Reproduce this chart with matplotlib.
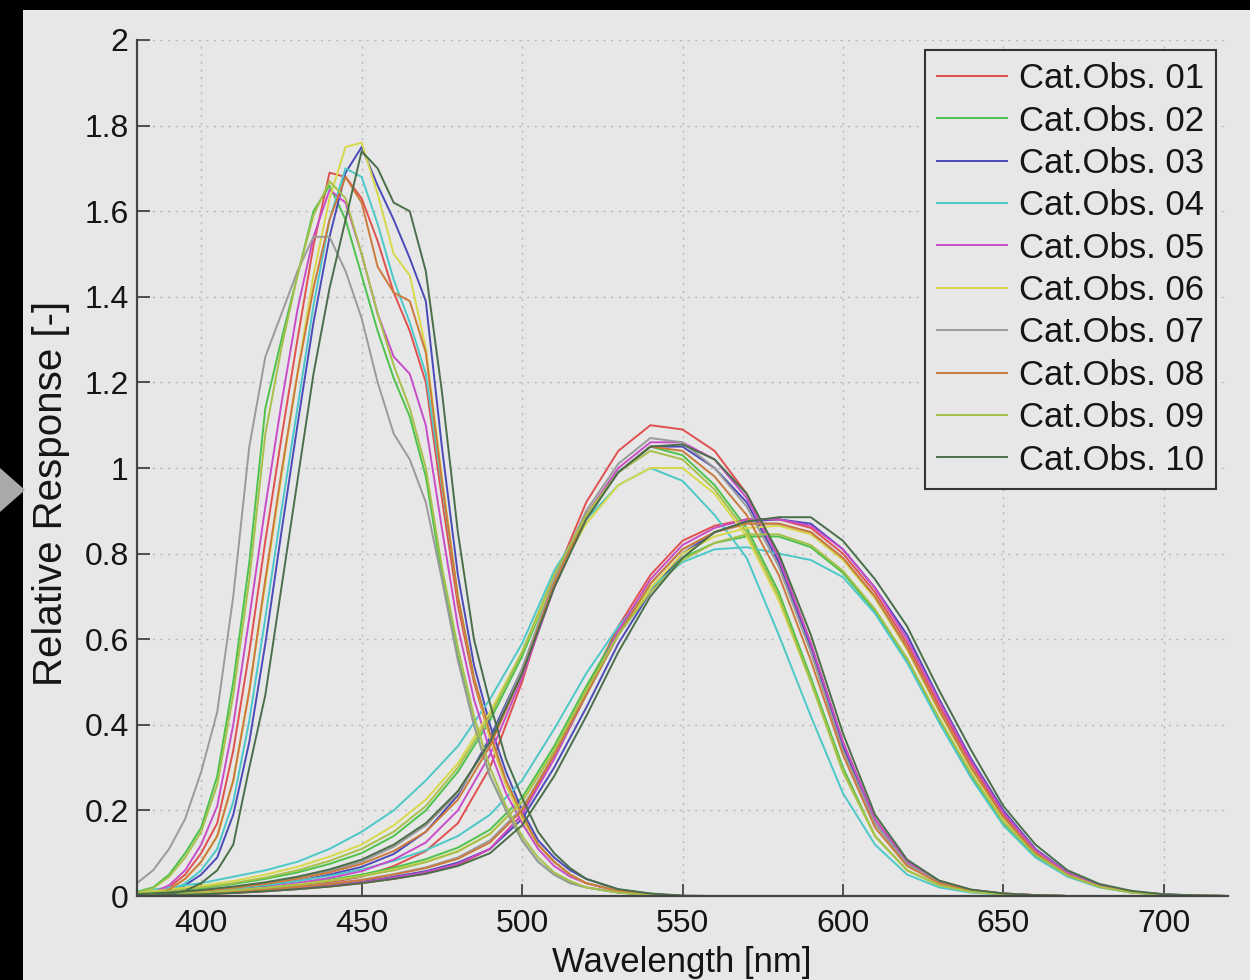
import matplotlib
matplotlib.use("Agg")
import matplotlib.pyplot as plt
from matplotlib.patches import Rectangle, Polygon
from matplotlib.ticker import FuncFormatter

plt.rcParams['font.family'] = ['Liberation Sans', 'DejaVu Sans']

# ---------------- data ----------------
OBSERVERS = ["Cat.Obs. 01", "Cat.Obs. 02", "Cat.Obs. 03", "Cat.Obs. 04", "Cat.Obs. 05",
             "Cat.Obs. 06", "Cat.Obs. 07", "Cat.Obs. 08", "Cat.Obs. 09", "Cat.Obs. 10"]
COLORS = ["#e0504f", "#4cc24c", "#4a4ab8", "#4cc8c8", "#c84cc8",
          "#d8d84a", "#9a9a9a", "#cc7a3c", "#a6c04a", "#4a6e4a"]

# short-wavelength (S) channel
S_WL = [380, 385, 390, 395, 400, 405, 410, 415, 420, 425, 430, 435, 440, 445, 450, 455,
        460, 465, 470, 475, 480, 485, 490, 495, 500, 505, 510, 515, 520, 530, 540, 550, 560]
S_RESP = [
    [0.00, 0.005, 0.02, 0.05, 0.10, 0.17, 0.34, 0.57, 0.83, 1.07, 1.30, 1.52, 1.69, 1.68, 1.63, 1.53,
     1.41, 1.32, 1.20, 0.93, 0.68, 0.50, 0.37, 0.26, 0.18, 0.12, 0.08, 0.05, 0.03, 0.012, 0.004, 0.0, 0.0],
    [0.01, 0.02, 0.05, 0.10, 0.16, 0.28, 0.50, 0.78, 1.14, 1.30, 1.45, 1.60, 1.66, 1.58, 1.45, 1.32,
     1.21, 1.12, 0.98, 0.75, 0.56, 0.40, 0.28, 0.20, 0.13, 0.08, 0.05, 0.03, 0.02, 0.008, 0.002, 0.0, 0.0],
    [0.00, 0.002, 0.008, 0.025, 0.05, 0.09, 0.19, 0.36, 0.59, 0.85, 1.10, 1.34, 1.54, 1.69, 1.75, 1.66,
     1.58, 1.49, 1.39, 1.05, 0.75, 0.54, 0.40, 0.29, 0.20, 0.13, 0.09, 0.06, 0.04, 0.015, 0.005, 0.0, 0.0],
    [0.00, 0.003, 0.01, 0.03, 0.06, 0.11, 0.22, 0.41, 0.65, 0.90, 1.14, 1.38, 1.58, 1.70, 1.68, 1.57,
     1.44, 1.34, 1.22, 0.96, 0.70, 0.51, 0.38, 0.27, 0.19, 0.12, 0.08, 0.05, 0.03, 0.012, 0.004, 0.0, 0.0],
    [0.00, 0.008, 0.025, 0.06, 0.12, 0.21, 0.40, 0.65, 0.91, 1.15, 1.37, 1.54, 1.65, 1.62, 1.50, 1.36,
     1.26, 1.22, 1.10, 0.86, 0.63, 0.46, 0.34, 0.24, 0.17, 0.11, 0.07, 0.045, 0.03, 0.01, 0.003, 0.0, 0.0],
    [0.00, 0.004, 0.015, 0.04, 0.08, 0.14, 0.27, 0.48, 0.73, 0.98, 1.22, 1.45, 1.63, 1.75, 1.76, 1.64,
     1.50, 1.45, 1.28, 0.98, 0.70, 0.51, 0.37, 0.26, 0.18, 0.12, 0.08, 0.05, 0.03, 0.012, 0.004, 0.0, 0.0],
    [0.03, 0.06, 0.11, 0.18, 0.29, 0.43, 0.70, 1.05, 1.26, 1.36, 1.46, 1.54, 1.54, 1.46, 1.35, 1.20,
     1.08, 1.02, 0.92, 0.74, 0.55, 0.40, 0.28, 0.20, 0.13, 0.08, 0.05, 0.03, 0.02, 0.008, 0.002, 0.0, 0.0],
    [0.00, 0.004, 0.015, 0.04, 0.08, 0.14, 0.27, 0.48, 0.74, 0.99, 1.22, 1.42, 1.58, 1.68, 1.62, 1.47,
     1.41, 1.39, 1.27, 0.97, 0.70, 0.51, 0.38, 0.27, 0.19, 0.12, 0.08, 0.05, 0.03, 0.012, 0.004, 0.0, 0.0],
    [0.008, 0.018, 0.045, 0.09, 0.15, 0.26, 0.47, 0.74, 1.08, 1.28, 1.45, 1.59, 1.67, 1.63, 1.50, 1.36,
     1.24, 1.14, 1.00, 0.77, 0.58, 0.42, 0.30, 0.21, 0.14, 0.09, 0.055, 0.035, 0.02, 0.008, 0.002, 0.0, 0.0],
    [0.00, 0.00, 0.004, 0.012, 0.03, 0.06, 0.12, 0.30, 0.47, 0.72, 0.97, 1.22, 1.42, 1.58, 1.74, 1.70,
     1.62, 1.60, 1.46, 1.18, 0.85, 0.60, 0.45, 0.32, 0.23, 0.15, 0.10, 0.065, 0.04, 0.016, 0.006, 0.001, 0.0],
]

# medium-wavelength (M) channel
M_WL = [380, 390, 400, 410, 420, 430, 440, 450, 460, 470, 480, 490, 500, 510, 520, 530, 540,
        550, 560, 570, 580, 590, 600, 610, 620, 630, 640, 650, 660, 670, 680, 690, 700]
M_RESP = [
    [0.0, 0.003, 0.006, 0.01, 0.015, 0.022, 0.032, 0.045, 0.07, 0.105, 0.17, 0.30, 0.50, 0.74, 0.92, 1.04, 1.10,
     1.09, 1.04, 0.94, 0.79, 0.59, 0.36, 0.18, 0.08, 0.035, 0.014, 0.006, 0.002, 0.0, 0.0, 0.0, 0.0],
    [0.005, 0.01, 0.018, 0.028, 0.04, 0.055, 0.075, 0.10, 0.14, 0.20, 0.29, 0.41, 0.56, 0.74, 0.89, 0.99, 1.05,
     1.03, 0.96, 0.86, 0.71, 0.51, 0.30, 0.14, 0.06, 0.025, 0.01, 0.004, 0.001, 0.0, 0.0, 0.0, 0.0],
    [0.002, 0.005, 0.01, 0.016, 0.024, 0.035, 0.05, 0.068, 0.098, 0.15, 0.235, 0.37, 0.53, 0.73, 0.89, 0.99, 1.05,
     1.05, 1.00, 0.92, 0.78, 0.58, 0.35, 0.17, 0.075, 0.032, 0.013, 0.005, 0.002, 0.0, 0.0, 0.0, 0.0],
    [0.01, 0.02, 0.03, 0.045, 0.06, 0.08, 0.11, 0.15, 0.20, 0.27, 0.35, 0.46, 0.59, 0.76, 0.88, 0.96, 1.00,
     0.97, 0.89, 0.79, 0.61, 0.42, 0.24, 0.12, 0.05, 0.02, 0.008, 0.003, 0.001, 0.0, 0.0, 0.0, 0.0],
    [0.0, 0.004, 0.008, 0.013, 0.02, 0.03, 0.042, 0.058, 0.085, 0.125, 0.20, 0.33, 0.51, 0.72, 0.89, 1.00, 1.06,
     1.06, 1.02, 0.93, 0.79, 0.59, 0.36, 0.18, 0.08, 0.035, 0.014, 0.006, 0.002, 0.0, 0.0, 0.0, 0.0],
    [0.008, 0.015, 0.024, 0.035, 0.05, 0.068, 0.092, 0.12, 0.165, 0.225, 0.31, 0.43, 0.57, 0.74, 0.87, 0.96, 1.00,
     1.00, 0.94, 0.84, 0.69, 0.50, 0.29, 0.14, 0.06, 0.025, 0.01, 0.004, 0.001, 0.0, 0.0, 0.0, 0.0],
    [0.004, 0.008, 0.013, 0.02, 0.03, 0.042, 0.058, 0.08, 0.115, 0.165, 0.24, 0.36, 0.53, 0.74, 0.90, 1.01, 1.07,
     1.06, 1.00, 0.91, 0.77, 0.57, 0.34, 0.17, 0.075, 0.032, 0.013, 0.005, 0.002, 0.0, 0.0, 0.0, 0.0],
    [0.003, 0.007, 0.012, 0.019, 0.028, 0.04, 0.055, 0.075, 0.105, 0.15, 0.225, 0.35, 0.52, 0.73, 0.89, 0.99, 1.05,
     1.04, 0.98, 0.89, 0.75, 0.55, 0.33, 0.16, 0.07, 0.03, 0.012, 0.005, 0.002, 0.0, 0.0, 0.0, 0.0],
    [0.006, 0.012, 0.02, 0.03, 0.043, 0.06, 0.082, 0.11, 0.15, 0.21, 0.30, 0.42, 0.57, 0.75, 0.89, 0.99, 1.04,
     1.02, 0.95, 0.85, 0.70, 0.50, 0.29, 0.14, 0.06, 0.025, 0.01, 0.004, 0.001, 0.0, 0.0, 0.0, 0.0],
    [0.004, 0.008, 0.014, 0.022, 0.032, 0.045, 0.062, 0.085, 0.12, 0.17, 0.245, 0.36, 0.52, 0.72, 0.88, 0.99, 1.05,
     1.055, 1.02, 0.94, 0.80, 0.61, 0.38, 0.19, 0.085, 0.036, 0.015, 0.006, 0.002, 0.0, 0.0, 0.0, 0.0],
]

# long-wavelength (L) channel
L_WL = [380, 390, 400, 410, 420, 430, 440, 450, 460, 470, 480, 490, 500, 510, 520, 530, 540, 550,
        560, 570, 580, 590, 600, 610, 620, 630, 640, 650, 660, 670, 680, 690, 700, 710, 720]
L_RESP = [
    [0.0, 0.002, 0.004, 0.007, 0.011, 0.016, 0.022, 0.03, 0.04, 0.053, 0.072, 0.11, 0.19, 0.33, 0.48, 0.63, 0.75, 0.83,
     0.865, 0.88, 0.88, 0.86, 0.80, 0.71, 0.59, 0.445, 0.31, 0.19, 0.105, 0.052, 0.023, 0.009, 0.003, 0.001, 0.0],
    [0.002, 0.005, 0.009, 0.014, 0.02, 0.028, 0.038, 0.05, 0.066, 0.086, 0.113, 0.155, 0.23, 0.35, 0.49, 0.62, 0.72, 0.79,
     0.825, 0.84, 0.84, 0.815, 0.755, 0.665, 0.55, 0.41, 0.28, 0.17, 0.094, 0.047, 0.021, 0.008, 0.003, 0.001, 0.0],
    [0.0, 0.002, 0.005, 0.008, 0.012, 0.018, 0.025, 0.033, 0.045, 0.058, 0.078, 0.11, 0.18, 0.30, 0.44, 0.59, 0.71, 0.80,
     0.85, 0.875, 0.88, 0.87, 0.81, 0.72, 0.61, 0.46, 0.32, 0.20, 0.11, 0.055, 0.025, 0.01, 0.004, 0.001, 0.0],
    [0.003, 0.006, 0.011, 0.017, 0.025, 0.035, 0.047, 0.062, 0.082, 0.107, 0.14, 0.19, 0.27, 0.39, 0.52, 0.63, 0.72, 0.78,
     0.81, 0.815, 0.80, 0.785, 0.745, 0.66, 0.545, 0.405, 0.275, 0.165, 0.09, 0.045, 0.02, 0.008, 0.003, 0.001, 0.0],
    [0.0, 0.002, 0.005, 0.008, 0.012, 0.017, 0.024, 0.032, 0.043, 0.056, 0.075, 0.11, 0.19, 0.32, 0.47, 0.62, 0.74, 0.82,
     0.86, 0.88, 0.88, 0.865, 0.81, 0.72, 0.60, 0.455, 0.315, 0.195, 0.108, 0.054, 0.024, 0.01, 0.004, 0.001, 0.0],
    [0.002, 0.004, 0.008, 0.013, 0.019, 0.027, 0.036, 0.047, 0.062, 0.08, 0.105, 0.145, 0.22, 0.34, 0.48, 0.61, 0.72, 0.80,
     0.84, 0.86, 0.865, 0.845, 0.785, 0.695, 0.575, 0.43, 0.295, 0.18, 0.10, 0.05, 0.022, 0.009, 0.003, 0.001, 0.0],
    [0.001, 0.003, 0.006, 0.01, 0.015, 0.021, 0.029, 0.038, 0.051, 0.067, 0.09, 0.13, 0.205, 0.33, 0.47, 0.61, 0.73, 0.81,
     0.85, 0.87, 0.87, 0.85, 0.79, 0.70, 0.58, 0.435, 0.30, 0.185, 0.10, 0.05, 0.022, 0.009, 0.003, 0.001, 0.0],
    [0.001, 0.003, 0.006, 0.01, 0.015, 0.021, 0.028, 0.037, 0.05, 0.065, 0.087, 0.125, 0.20, 0.33, 0.47, 0.61, 0.73, 0.81,
     0.85, 0.87, 0.87, 0.85, 0.79, 0.70, 0.58, 0.435, 0.30, 0.185, 0.10, 0.05, 0.022, 0.009, 0.003, 0.001, 0.0],
    [0.002, 0.004, 0.008, 0.013, 0.019, 0.026, 0.035, 0.046, 0.06, 0.079, 0.104, 0.145, 0.22, 0.34, 0.48, 0.61, 0.71, 0.785,
     0.825, 0.845, 0.845, 0.82, 0.76, 0.67, 0.555, 0.415, 0.285, 0.173, 0.096, 0.048, 0.021, 0.008, 0.003, 0.001, 0.0],
    [0.0, 0.002, 0.004, 0.007, 0.011, 0.016, 0.022, 0.03, 0.04, 0.052, 0.07, 0.10, 0.165, 0.28, 0.42, 0.57, 0.70, 0.79,
     0.85, 0.875, 0.885, 0.885, 0.83, 0.74, 0.63, 0.48, 0.34, 0.21, 0.12, 0.06, 0.028, 0.012, 0.004, 0.0015, 0.0],
]

X_TICKS = [400, 450, 500, 550, 600, 650, 700]
Y_TICKS = [0, 0.2, 0.4, 0.6, 0.8, 1.0, 1.2, 1.4, 1.6, 1.8, 2.0]

# ---------------- figure ----------------
W, H = 1250, 980
BG = "#e7e7e7"
INK = "#151515"
fig = plt.figure(figsize=(W / 100, H / 100), dpi=100)
fig.patch.set_facecolor(BG)

# dark frame strips and side marker
fig.add_artist(Rectangle((0, 0), 23 / W, 1, transform=fig.transFigure,
                         facecolor="black", edgecolor="none", zorder=0))
fig.add_artist(Rectangle((0, 1 - 10 / H), 1, 10 / H, transform=fig.transFigure,
                         facecolor="black", edgecolor="none", zorder=0))
fig.add_artist(Polygon([(0, 1 - 468 / H), (25 / W, 1 - 490 / H), (0, 1 - 512 / H)],
                       closed=True, transform=fig.transFigure,
                       facecolor="#a9a9a9", edgecolor="none", zorder=1))

ax = fig.add_axes([137 / W, 84 / H, 1091 / W, 856 / H])
ax.set_facecolor(BG)

for i, name in enumerate(OBSERVERS):
    c = COLORS[i]
    ax.plot(S_WL, S_RESP[i], color=c, lw=1.4, label=name)
    ax.plot(M_WL, M_RESP[i], color=c, lw=1.4)
    ax.plot(L_WL, L_RESP[i], color=c, lw=1.4)

ax.set_xlim(380, 720)
ax.set_ylim(0, 2)
ax.set_xticks(X_TICKS)
ax.set_yticks(Y_TICKS)
ax.yaxis.set_major_formatter(FuncFormatter(lambda v, p: f"{v:g}"))

for side in ("top", "right"):
    ax.spines[side].set_visible(False)
for side in ("left", "bottom"):
    ax.spines[side].set_color("#444444")
    ax.spines[side].set_linewidth(1.6)

ax.tick_params(axis="both", direction="in", length=9, width=1.3, color="#444444",
               labelsize=23, labelcolor=INK)
ax.tick_params(axis="x", pad=9)
ax.tick_params(axis="y", pad=6)

ax.grid(True, color="#b8b8b8", linestyle=(0, (1.5, 4)), linewidth=1.0)
ax.set_axisbelow(True)

fig.text(682 / W, 1 - 962 / H, "Wavelength [nm]", ha="center", va="center",
         fontsize=25, color=INK)
fig.text(51 / W, 1 - 493 / H, "Relative Response [-]", ha="center", va="center",
         rotation=90, fontsize=29, color=INK)

leg = ax.legend(loc="upper right", bbox_to_anchor=((1216 - 137) / 1091, (896 - 50) / 856),
                borderaxespad=0, fontsize=25, frameon=True, fancybox=False,
                handlelength=2.0, handletextpad=0.35, labelspacing=0.27,
                borderpad=0.35, framealpha=1)
leg.get_frame().set_facecolor(BG)
leg.get_frame().set_edgecolor("#333333")
leg.get_frame().set_linewidth(1.5)
for t in leg.get_texts():
    t.set_color(INK)

fig.savefig("out.png", dpi=100, facecolor=fig.get_facecolor())
